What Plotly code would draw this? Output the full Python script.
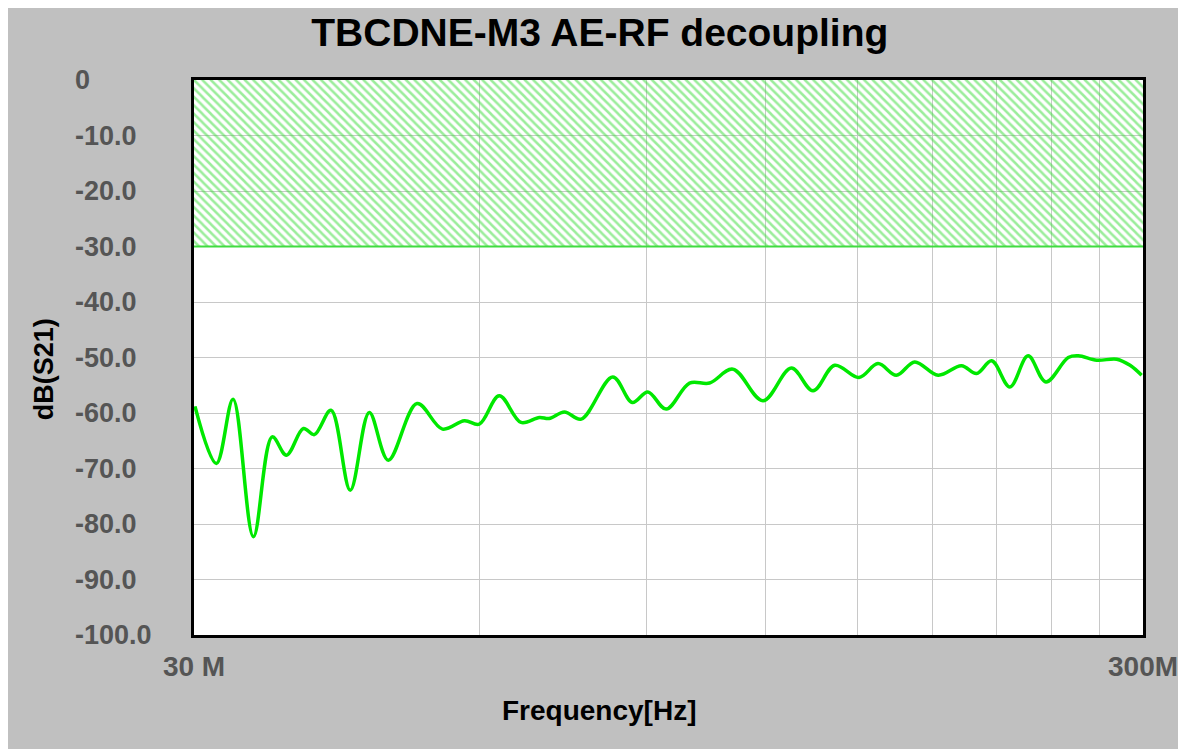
import plotly.graph_objects as go

# Measured S21 (frequency in MHz, dB)
freq_mhz = [30.07, 31.67, 32.98, 34.65, 36.27, 37.54, 39.12, 40.17, 41.83, 43.83,
            45.90, 48.07, 51.54, 54.82, 57.82, 59.95, 62.92, 66.33, 69.36, 71.0,
            73.70, 76.75, 82.86, 86.88, 90.23, 94.34, 99.83, 104.8, 110.9, 119.3,
            127.8, 134.7, 142.0, 150.6, 157.7, 164.9, 172.4, 182.5, 193.1, 200.3,
            207.8, 217.2, 227.0, 237.0, 250.2, 256.4, 268.2, 281.5, 290.7, 299.0]
s21_db = [-58.8, -69.1, -57.5, -82.3, -64.3, -67.6, -62.8, -63.9, -59.5, -73.9,
          -59.9, -68.5, -58.3, -62.9, -61.4, -62.0, -56.9, -61.7, -60.8, -61.0,
          -59.8, -61.1, -53.5, -58.1, -56.2, -59.3, -54.6, -54.6, -52.1, -57.8,
          -51.9, -56.0, -51.4, -53.6, -51.1, -53.2, -50.8, -53.2, -51.5, -52.9,
          -50.6, -55.3, -49.7, -54.4, -50.0, -49.7, -50.5, -50.3, -51.4, -53.2]

# Limit zone (hatched)
limit_x_mhz = [30, 300, 300, 30, 30]
limit_y_db = [0, 0, -30, -30, 0]

# Axis ticks
x_tick_mhz = [30, 60, 90, 120, 150, 180, 210, 240, 270, 300]
x_tick_text = ["30 M", "", "", "", "", "", "", "", "", "300M"]
y_tick_vals = [0, -10, -20, -30, -40, -50, -60, -70, -80, -90, -100]
y_tick_text = ["0", "-10.0", "-20.0", "-30.0", "-40.0", "-50.0", "-60.0",
               "-70.0", "-80.0", "-90.0", "-100.0"]

FONT = "Liberation Sans, Arial, sans-serif"

fig = go.Figure()
fig.add_trace(go.Scatter(
    x=[v * 1e6 for v in limit_x_mhz], y=limit_y_db, mode="lines",
    fill="toself", fillcolor="rgba(0,0,0,0)",
    fillpattern=dict(shape="\\", fgcolor="#38dc38", bgcolor="rgba(0,0,0,0)",
                     size=6, solidity=0.42),
    line=dict(color="rgba(0,0,0,0)", width=0),
    hoverinfo="skip", showlegend=False))
fig.add_trace(go.Scatter(
    x=[30e6, 300e6], y=[-30, -30], mode="lines",
    line=dict(color="#40dc40", width=2), hoverinfo="skip", showlegend=False))
fig.add_trace(go.Scatter(
    x=[v * 1e6 for v in freq_mhz], y=s21_db, mode="lines",
    line=dict(color="#00e800", width=3.5, shape="spline", smoothing=1.0),
    showlegend=False))

annotations = []
for v, t in zip(y_tick_vals, y_tick_text):
    annotations.append(dict(x=-0.1275, xref="paper", y=v, yref="y", text=t,
                            showarrow=False, xanchor="left", yanchor="middle",
                            font=dict(family=FONT, size=27, color="#555555",
                                      weight="bold")))
annotations.append(dict(x=0.4268, xref="paper", y=-0.1369, yref="paper",
                        text="<b>Frequency[Hz]</b>", showarrow=False,
                        xanchor="center", yanchor="middle",
                        font=dict(family=FONT, size=28, color="black")))
annotations.append(dict(x=-0.158, xref="paper", y=0.479, yref="paper",
                        text="<b>dB(S21)</b>", showarrow=False, textangle=-90,
                        xanchor="center", yanchor="middle",
                        font=dict(family=FONT, size=27, color="black")))

fig.update_layout(
    width=1186, height=749,
    margin=dict(l=186, r=51, t=72, b=122),
    paper_bgcolor="#c0c0c0", plot_bgcolor="white",
    title=dict(text="<b>TBCDNE-M3 AE-RF decoupling</b>", x=0.499, xanchor="center",
               y=0.968, yanchor="middle",
               font=dict(family=FONT, size=39, color="black")),
    annotations=annotations,
    xaxis=dict(type="log", range=[7.4771, 8.4771],
               tickvals=[v * 1e6 for v in x_tick_mhz], ticktext=x_tick_text,
               showgrid=True, gridcolor="#c8c8c8", gridwidth=1,
               showline=True, linecolor="black", linewidth=3, mirror=True,
               ticks="outside", ticklen=4, tickcolor="rgba(0,0,0,0)",
               tickfont=dict(family=FONT, size=28, color="#555555", weight="bold"),
               zeroline=False),
    yaxis=dict(range=[-100, 0], tickvals=y_tick_vals, showticklabels=False,
               showgrid=True, gridcolor="#c8c8c8", gridwidth=1,
               showline=True, linecolor="black", linewidth=3, mirror=True,
               zeroline=False),
)

fig.write_html("out.html")
